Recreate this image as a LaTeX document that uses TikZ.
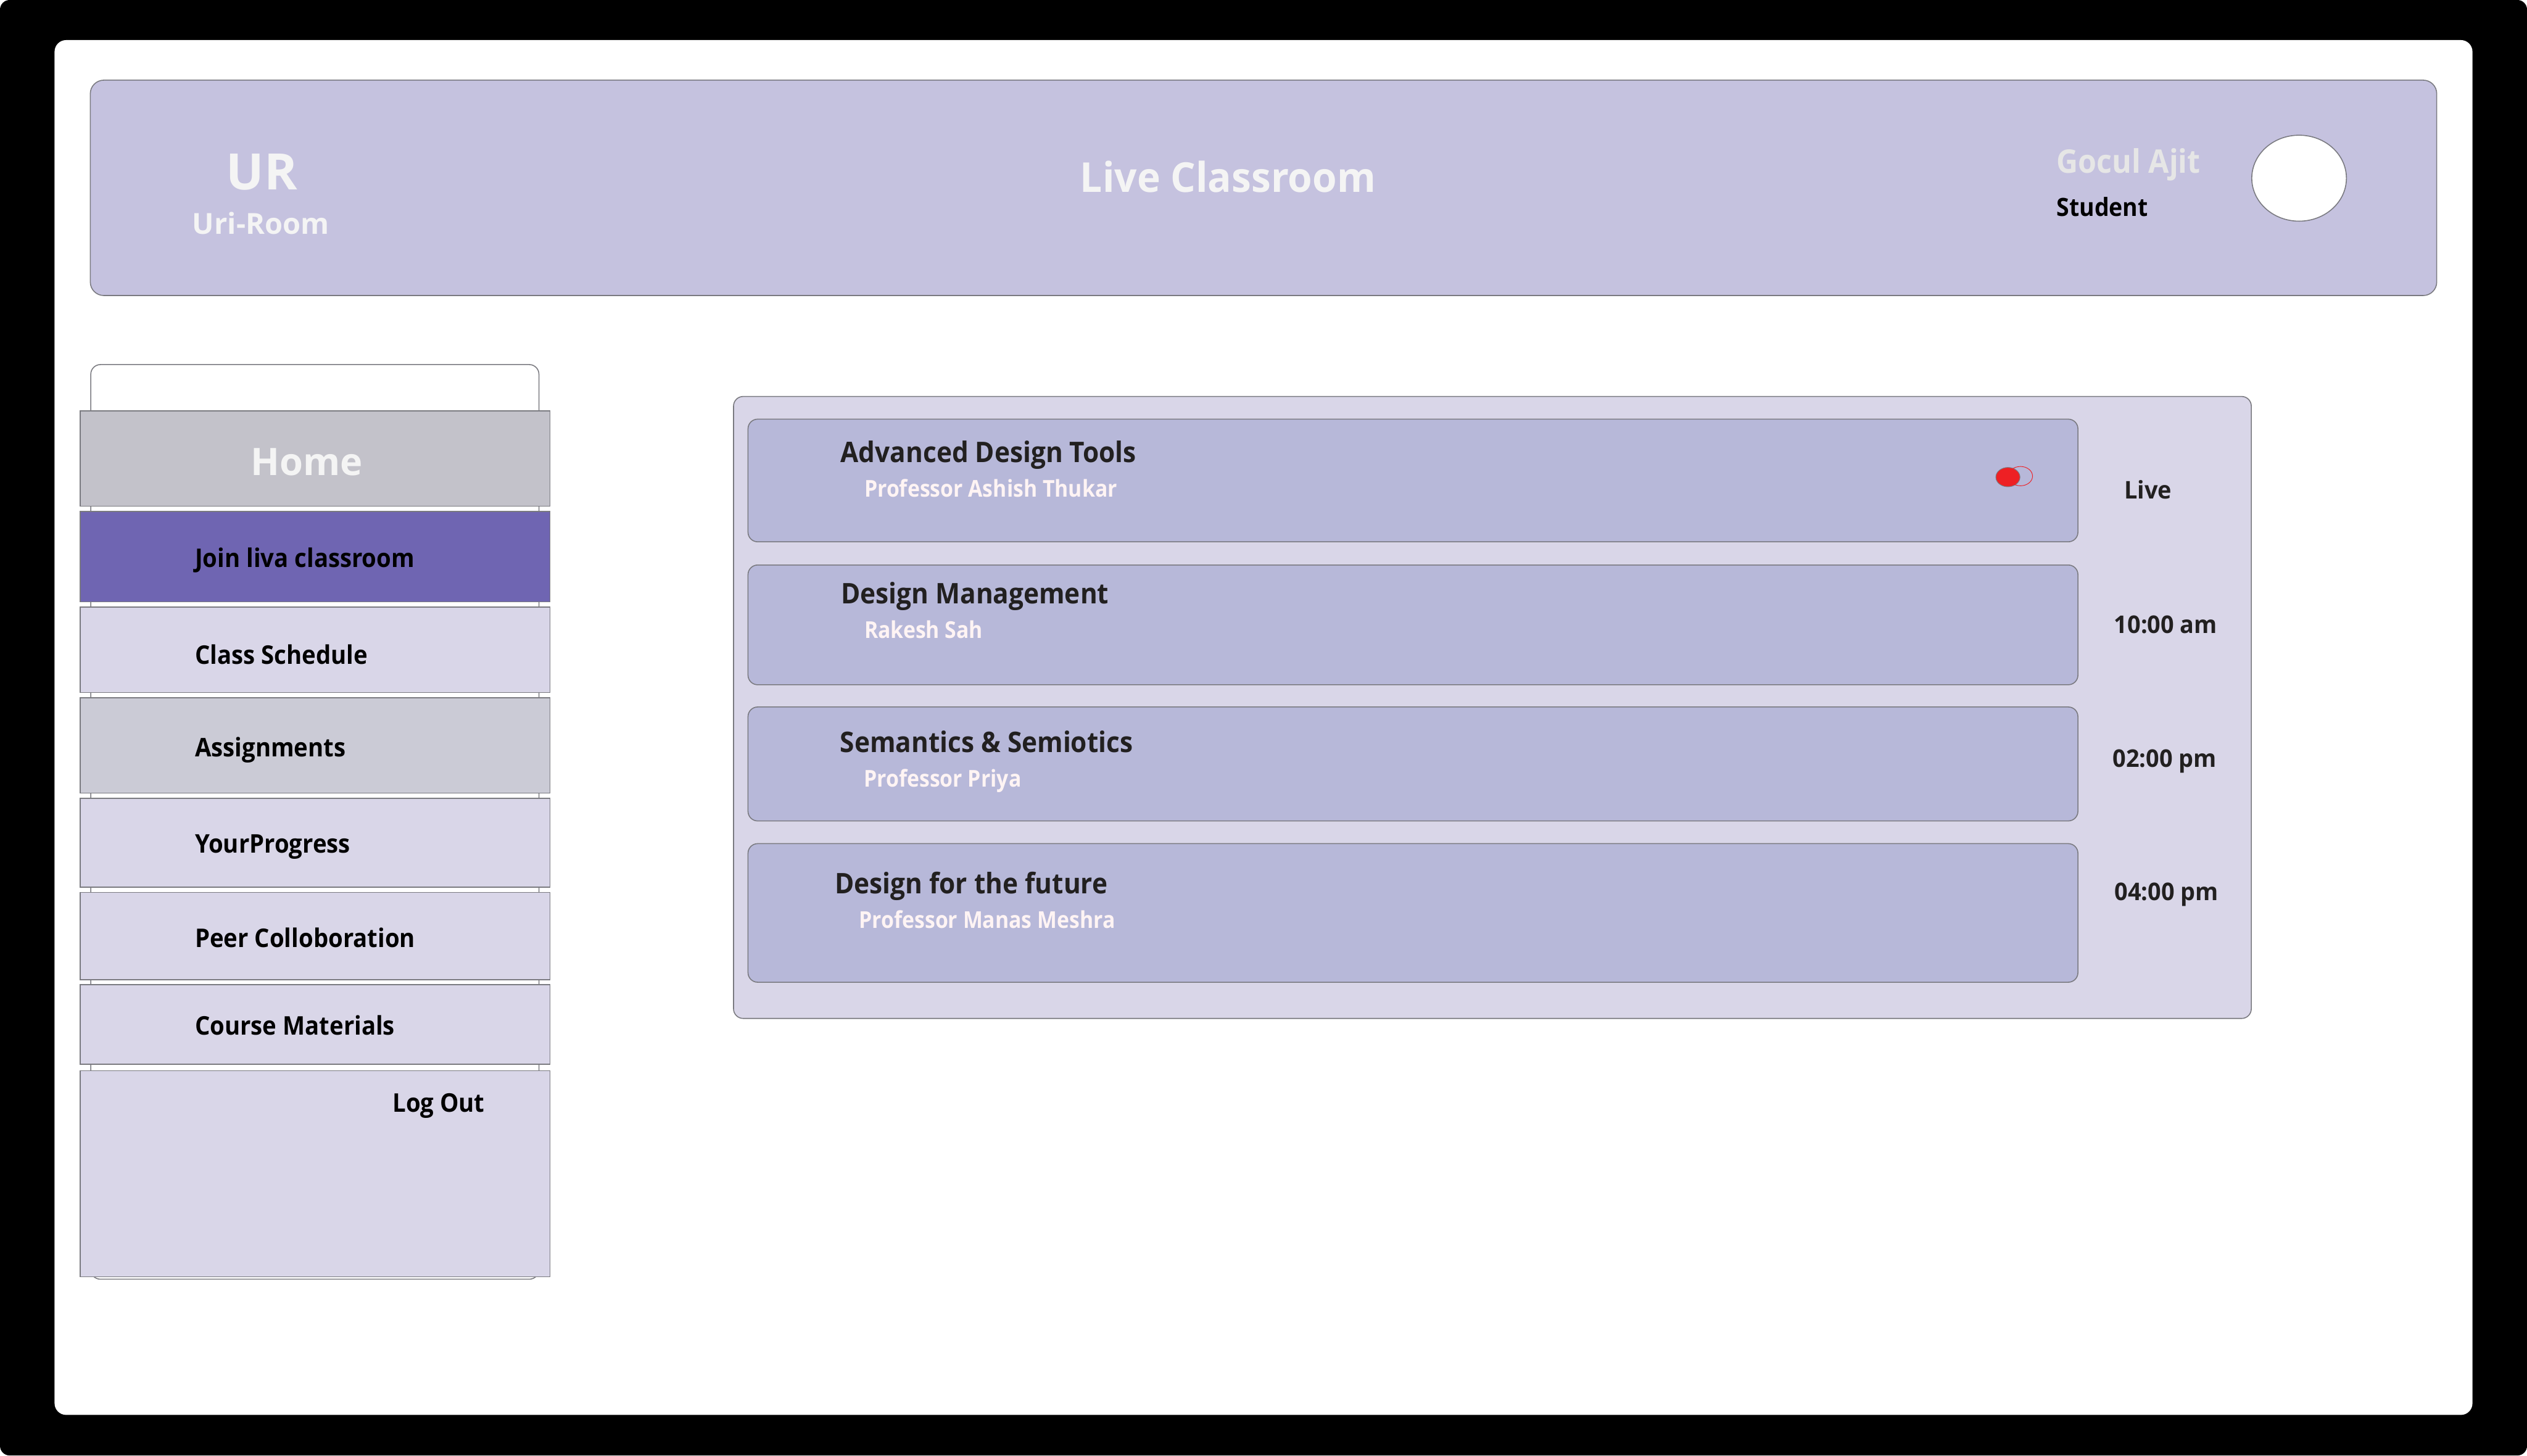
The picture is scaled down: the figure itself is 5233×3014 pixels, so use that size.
\documentclass[tikz,border=0pt]{standalone}
\usepackage{fontspec}
\setmainfont{Open Sans}
\newfontfamily\cndA{Open Sans}[FakeStretch=0.96]
\newfontfamily\cndB{Open Sans}[FakeStretch=0.92]
\newfontfamily\cndC{Open Sans}[FakeStretch=0.90]
\definecolor{headerc}{HTML}{C5C2DF}
\definecolor{panelc}{HTML}{D9D6E8}
\definecolor{cardc}{HTML}{B7B8D9}
\definecolor{homec}{HTML}{C3C2CA}
\definecolor{assignc}{HTML}{CBCBD6}
\definecolor{joinc}{HTML}{6F65B2}
\definecolor{linegray}{HTML}{7A7A80}
\definecolor{titlec}{HTML}{222020}
\definecolor{subc}{HTML}{FFF4F4}
\definecolor{lightc}{HTML}{F4F4F4}
\definecolor{goculc}{HTML}{E6E6E6}
\definecolor{redc}{HTML}{EE2024}
\newcommand\fsz[1]{\fontsize{#1}{#1}\selectfont}
\begin{document}
\begin{tikzpicture}[x=0.25pt,y=-0.25pt,
  frame/.style={draw=linegray, line width=0.5pt},
  txt/.style={inner sep=0pt, outer sep=0pt},
  logo/.style={txt, text=lightc, font=\bfseries\fsz{26}},
  logosub/.style={txt, text=lightc, font=\bfseries\fsz{15}},
  pagetitle/.style={txt, text=lightc, font=\cndA\bfseries\fsz{21.3}},
  username/.style={txt, text=goculc, font=\cndB\bfseries\fsz{16.8}},
  userrole/.style={txt, text=black, font=\cndB\bfseries\fsz{13}},
  hometxt/.style={txt, text=lightc, font=\bfseries\fsz{19.6}},
  menutxt/.style={txt, text=black, font=\cndB\bfseries\fsz{13.3}},
  cardtitle/.style={txt, text=titlec, font=\cndB\bfseries\fsz{14.7}},
  cardsub/.style={txt, text=subc, font=\cndC\bfseries\fsz{12}},
  timetxt/.style={txt, text=titlec, font=\cndA\bfseries\fsz{12.6}},
  menubox/.style={frame, line width=0.45pt},
  card/.style={frame, fill=cardc, rounded corners=5pt}
]
\useasboundingbox (0,0) rectangle (5233,3014);
\fill[white] (0,0) rectangle (5233,3014);
\fill[black, rounded corners=5pt] (0,0) rectangle (5233,3014);
\fill[white, rounded corners=6pt] (113,83) rectangle (5120,2930);

% header
\draw[frame, fill=headerc, rounded corners=7pt] (187,166) rectangle (5046,612);
\node[logo, anchor=base] (ur) at (542,393) {UR};
\node[logosub, anchor=base] (uriroom) at (540,485) {Uri-Room};
\node[pagetitle, anchor=base] (title) at (2543,398) {Live Classroom};
\node[username, anchor=base west] (gocul) at (4259,359) {Gocul Ajit};
\node[userrole, anchor=base west] (student) at (4259,448) {Student};
\draw[frame, fill=white] (4761,369) ellipse [x radius=98, y radius=89];
\coordinate (avatar) at (4761,369);

% sidebar
\draw[frame, fill=white, rounded corners=5pt] (188,755) rectangle (1116,2649);
\draw[menubox, fill=homec] (166,851) rectangle (1139,1048);
\draw[menubox, fill=joinc] (166,1059) rectangle (1139,1246);
\draw[menubox, fill=panelc] (166,1257) rectangle (1139,1434);
\draw[menubox, fill=assignc] (166,1445) rectangle (1139,1642);
\draw[menubox, fill=panelc] (166,1653) rectangle (1139,1837);
\draw[menubox, fill=panelc] (166,1848) rectangle (1139,2029);
\draw[menubox, fill=panelc] (166,2039) rectangle (1139,2204);
\draw[menubox, fill=panelc] (166,2217) rectangle (1139,2644);
\node[hometxt, anchor=base] (home) at (635,984) {Home};
\node[menutxt, anchor=base west] (join) at (404,1175) {Join liva classroom};
\node[menutxt, anchor=base west] (sched) at (404,1375) {Class Schedule};
\node[menutxt, anchor=base west] (assign) at (404,1567) {Assignments};
\node[menutxt, anchor=base west] (progress) at (404,1766) {YourProgress};
\node[menutxt, anchor=base west] (peer) at (404,1962) {Peer Colloboration};
\node[menutxt, anchor=base west] (course) at (404,2143) {Course Materials};
\node[menutxt, anchor=base west] (logout) at (813,2303) {Log Out};

% main panel
\draw[frame, fill=panelc, rounded corners=5pt] (1519,821) rectangle (4662,2109);
\draw[card] (1549,868) rectangle (4303,1122);
\draw[card] (1549,1170) rectangle (4303,1418);
\draw[card] (1549,1464) rectangle (4303,1700);
\draw[card] (1549,1747) rectangle (4303,2034);

\node[cardtitle, anchor=base west] (c1t) at (1741,957) {Advanced Design Tools};
\node[cardsub, anchor=base west] (c1s) at (1790,1029) {Professor Ashish Thukar};
\node[cardtitle, anchor=base west] (c2t) at (1742,1250) {Design Management};
\node[cardsub, anchor=base west] (c2s) at (1790,1322) {Rakesh Sah};
\node[cardtitle, anchor=base west] (c3t) at (1740,1558) {Semantics \& Semiotics};
\node[cardsub, anchor=base west] (c3s) at (1789,1630) {Professor Priya};
\node[cardtitle, anchor=base west] (c4t) at (1729,1850) {Design for the future};
\node[cardsub, anchor=base west] (c4s) at (1779,1922) {Professor Manas Meshra};

% live toggle
\draw[linegray, line width=0.3pt, fill=redc] (4158,988) ellipse [x radius=25, y radius=20];
\draw[redc, line width=0.3pt] (4184,986) ellipse [x radius=25, y radius=20];
\coordinate (toggle) at (4170,988);

\node[timetxt, anchor=base west] (t1) at (4399,1033) {Live};
\node[timetxt, anchor=base west] (t2) at (4378,1311) {10:00 am};
\node[timetxt, anchor=base west] (t3) at (4375,1589) {02:00 pm};
\node[timetxt, anchor=base west] (t4) at (4379,1864) {04:00 pm};
\end{tikzpicture}
\end{document}
